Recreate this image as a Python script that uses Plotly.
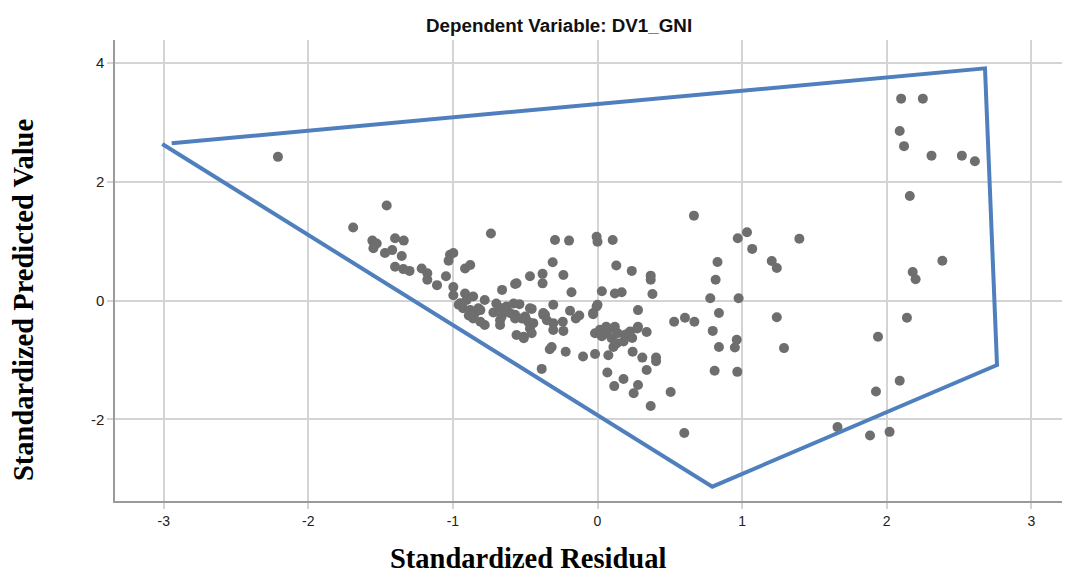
import plotly.graph_objects as go

# Standardized residuals (x) and standardized predicted values (y)
residual = [
    -2.21, -1.69, -1.458, -1.557, -1.527, -1.55, -1.40, -1.34, -1.42, -1.47,
    -1.354, -1.40, -1.343, -1.30, -1.216, -1.177, -1.177, -1.11, -1.048, -1.02,
    -0.997, -1.03, -0.916, -0.88, -0.997, -0.997, -0.916, -0.86, -0.78, -0.66,
    -0.57, -0.96, -0.905, -0.824, -0.65, -0.58, -0.737, -0.294, -0.197, -0.006,
    0.0, 0.105, -0.31, -0.236, -0.18, 0.03, 0.13, 0.237, 0.368, 0.368,
    0.12, 0.167, 0.38, -0.467, -0.38, -0.38, -0.56, -0.54, -0.455, -0.306,
    -0.19, -0.126, -0.03, -0.006, -0.57, -0.51, -0.375, -0.35, -0.24, -0.95,
    -0.93, -0.88, -0.847, -0.81, -0.86, -0.81, -0.78, -0.674, -0.63, -0.663,
    -0.674, -0.605, -0.57, -0.479, -0.467, -0.56, -0.51, -0.306, -0.236, -0.306,
    -0.317, -0.33, -0.22, -0.10, -0.017, -0.386, -0.455, -0.51, -0.50, -0.444,
    -0.363, -0.467, -0.375, 0.0, -0.03, 0.017, -0.017, 0.063, 0.06, 0.12,
    0.11, 0.098, 0.133, 0.18, 0.19, 0.225, 0.197, 0.275, 0.28, 0.34,
    0.28, 0.11, 0.075, 0.243, 0.31, 0.405, 0.405, 0.34, 0.068, 0.18,
    0.116, 0.28, 0.25, 0.368, 0.506, 0.60, 0.53, 0.605, 0.67, 0.78,
    0.976, 0.84, 0.797, 0.84, 0.963, 0.95, 0.81, 0.967, 1.24, 1.29,
    0.667, 1.034, 0.97, 1.07, 1.396, 1.205, 1.24, 0.83, 0.817, 1.94,
    2.14, 2.09, 1.926, 1.66, 1.885, 2.02, 2.10, 2.25, 2.09, 2.12,
    2.31, 2.52, 2.61, 2.16, 2.385, 2.18, 2.20, -0.89, -0.72, -0.70,
    0.03, 0.14, 0.24, -0.15, -0.524, -0.674,
]
predicted = [
    2.42, 1.23, 1.60, 1.01, 0.96, 0.88, 1.05, 1.01, 0.85, 0.80,
    0.75, 0.57, 0.53, 0.50, 0.54, 0.46, 0.35, 0.26, 0.41, 0.77,
    0.80, 0.67, 0.54, 0.60, 0.23, 0.09, 0.12, 0.07, 0.01, 0.18,
    0.28, -0.07, 0.01, -0.13, -0.13, -0.05, 1.13, 1.02, 1.01, 1.075,
    0.99, 1.02, 0.645, 0.43, 0.14, 0.157, 0.59, 0.50, 0.42, 0.35,
    0.12, 0.14, 0.11, 0.41, 0.45, 0.29, 0.29, -0.06, -0.14, -0.07,
    -0.17, -0.25, -0.21, -0.10, -0.24, -0.30, -0.24, -0.33, -0.355, -0.045,
    -0.13, -0.16, -0.21, -0.16, -0.30, -0.355, -0.41, -0.13, -0.10, -0.27,
    -0.41, -0.21, -0.30, -0.355, -0.47, -0.58, -0.635, -0.38, -0.51, -0.495,
    -0.78, -0.82, -0.86, -0.94, -0.90, -1.15, -0.55, -0.61, -0.27, -0.38,
    -0.24, -0.13, -0.21, -0.07, -0.23, -0.49, -0.55, -0.55, -0.44, -0.44,
    -0.47, -0.635, -0.72, -0.69, -0.58, -0.52, -0.57, -0.47, -0.44, -0.53,
    -0.16, -0.78, -0.92, -0.86, -0.96, -0.96, -1.02, -1.17, -1.21, -1.32,
    -1.44, -1.42, -1.56, -1.775, -1.54, -2.23, -0.355, -0.29, -0.355, 0.04,
    0.04, -0.21, -0.51, -0.78, -0.66, -0.79, -1.18, -1.20, -0.28, -0.80,
    1.43, 1.15, 1.05, 0.87, 1.04, 0.667, 0.55, 0.65, 0.35, -0.61,
    -0.29, -1.35, -1.53, -2.13, -2.27, -2.21, 3.40, 3.40, 2.855, 2.60,
    2.44, 2.44, 2.345, 1.76, 0.67, 0.48, 0.36, -0.25, -0.20, -0.05,
    -0.60, -0.55, -0.63, -0.30, -0.30, -0.33,
]

# Hand-drawn outline (vertices in data units)
outline_x = [-2.945, 2.68, 2.763, 0.794, -3.01]
outline_y = [2.648, 3.91, -1.084, -3.133, 2.636]

x_ticks = [-3, -2, -1, 0, 1, 2, 3]
y_ticks = [-2, 0, 2, 4]

fig = go.Figure()
fig.add_trace(go.Scatter(
    x=residual, y=predicted, mode="markers",
    marker=dict(size=10, color="#6e6e6e", line=dict(width=0)),
    showlegend=False,
))
fig.add_trace(go.Scatter(
    x=outline_x, y=outline_y, mode="lines",
    line=dict(color="#4f80bd", width=4), showlegend=False,
))

axis_common = dict(
    showgrid=True, gridcolor="#d4d4d4", gridwidth=1.5,
    showline=True, linecolor="#9a9a9a", linewidth=1.5,
    ticks="outside", ticklen=6, tickcolor="#d4d4d4", tickwidth=1.5,
    zeroline=False,
)
fig.update_xaxes(range=[-3.337, 3.254], tickvals=x_ticks,
                 ticktext=[str(v) for v in x_ticks],
                 tickfont=dict(family="Liberation Sans, Arial", size=14, color="#222"),
                 **axis_common)
fig.update_yaxes(range=[-3.374, 4.387], tickvals=y_ticks,
                 ticktext=[str(v) for v in y_ticks],
                 tickfont=dict(family="Liberation Sans, Arial", size=15, color="#222"),
                 **axis_common)

fig.update_layout(
    width=1062, height=565,
    margin=dict(l=107, r=2, t=32, b=72),
    plot_bgcolor="white", paper_bgcolor="white",
    annotations=[
        dict(text="<b>Dependent Variable: DV1_GNI</b>", xref="paper", yref="paper",
             x=0.4664, y=1.0, yshift=15, xanchor="center", yanchor="middle",
             showarrow=False, font=dict(family="Liberation Sans, Arial", size=18.8, color="#111")),
        dict(text="<b>Standardized Residual</b>", xref="paper", yref="paper",
             x=0.4334, y=0, yshift=-57, xanchor="center", yanchor="middle",
             showarrow=False, font=dict(family="Liberation Serif, Times New Roman", size=28.5, color="#000")),
        dict(text="<b>Standardized Predicted Value</b>", xref="paper", yref="paper",
             x=0, xshift=-92, y=0.436, xanchor="center", yanchor="middle",
             textangle=-90, showarrow=False,
             font=dict(family="Liberation Serif, Times New Roman", size=28.5, color="#000")),
    ],
)

fig.write_html("out.html")
